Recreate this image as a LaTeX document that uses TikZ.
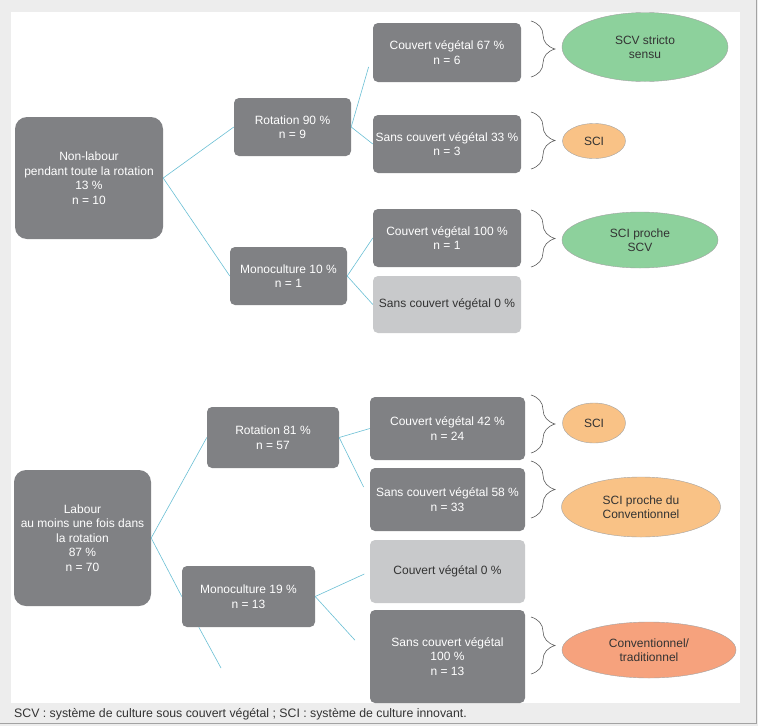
\documentclass[tikz,border=0pt]{standalone}
\usepackage{fontspec}
\setmainfont{Liberation Sans}
\usepackage{xcolor}
\usepackage{tikz}
\usetikzlibrary{decorations.pathreplacing,shapes.geometric}
\definecolor{fondo}{HTML}{EDEDED}
\definecolor{bordo}{HTML}{A3A3A3}
\definecolor{scuro}{HTML}{808184}
\definecolor{chiaro}{HTML}{C8C9CB}
\definecolor{testo}{HTML}{333333}
\definecolor{celeste}{HTML}{6BC0D5}
\definecolor{verde}{HTML}{8DD19C}
\definecolor{arancio}{HTML}{F9C286}
\definecolor{salmone}{HTML}{F6A27D}
\tikzset{
  boxdark/.style={rectangle, rounded corners=5pt, fill=scuro, text=white, align=center,
    inner sep=0pt, font=\fontsize{12}{14.5}\selectfont},
  boxlight/.style={boxdark, fill=chiaro, text=testo},
  esito/.style={ellipse, draw=bordo, line width=0.4pt, text=testo, align=center,
    inner sep=0pt, font=\fontsize{12}{14.5}\selectfont},
  ramo/.style={celeste, line width=0.6pt},
  graffa/.style={draw=testo!80, line width=0.6pt, decorate,
    decoration={brace, amplitude=24pt, aspect=0.5}}
}
\begin{document}
\begin{tikzpicture}[x=1pt, y=-1pt]
  % Background and panel
  \fill[fondo] (0,0) rectangle (758,726);
  \useasboundingbox (0,0) rectangle (758,726);
  \fill[white] (11,12) rectangle (740,703);
  \draw[bordo, line width=1pt] (756,0) -- (756,723) -- (0,723);
  % Upper tree: non-labour
  \node[boxdark, rounded corners=12pt, minimum width=148pt, minimum height=122pt] (nl) at (89,178)
    {Non-labour\\pendant toute la rotation\\13 \%\\n = 10};
  \node[boxdark, minimum width=117pt, minimum height=58pt] (rot1) at (292.5,127) {Rotation 90 \%\\n = 9};
  \node[boxdark, minimum width=117pt, minimum height=58pt] (mono1) at (288.5,276) {Monoculture 10 \%\\n = 1};
  \node[boxdark, minimum width=148pt, minimum height=59pt] (c67) at (447,52.5) {Couvert végétal 67 \%\\n = 6};
  \node[boxdark, minimum width=148pt, minimum height=58pt] (s33) at (447,144) {Sans couvert végétal 33 \%\\n = 3};
  \node[boxdark, minimum width=148pt, minimum height=58pt] (c100) at (447,238) {Couvert végétal 100 \%\\n = 1};
  \node[boxlight, minimum width=148pt, minimum height=57pt] (s0) at (447,304.5) {Sans couvert végétal 0 \%};
  \draw[ramo] (nl.east) -- (rot1.west);
  \draw[ramo] (nl.east) -- (mono1.west);
  \draw[ramo, shorten >=15pt] (rot1.east) -- (c67.west);
  \draw[ramo] (rot1.east) -- (s33.west);
  \draw[ramo] (mono1.east) -- (c100.west);
  \draw[ramo] (mono1.east) -- (s0.west);
  % Upper outcomes
  \draw[graffa] (531,21) -- (531,77);
  \draw[graffa] (531,112) -- (531,169);
  \draw[graffa] (531,210) -- (531,267);
  \node[esito, fill=verde, minimum width=166pt, minimum height=69pt] (e1) at (645,47) {SCV stricto\\sensu};
  \node[esito, fill=arancio, minimum width=63pt, minimum height=35pt] (e2) at (594,141) {SCI};
  \node[esito, fill=verde, minimum width=156pt, minimum height=56pt] (e3) at (640,240) {SCI proche\\SCV};
  % Lower tree: labour
  \node[boxdark, rounded corners=12pt, minimum width=137pt, minimum height=136pt] (lab) at (82.5,538)
    {Labour\\au moins une fois dans\\la rotation\\87 \%\\n = 70};
  \node[boxdark, minimum width=132pt, minimum height=61pt] (rot2) at (273,437.5) {Rotation 81 \%\\n = 57};
  \node[boxdark, minimum width=133pt, minimum height=61pt] (mono2) at (248.5,596.5) {Monoculture 19 \%\\n = 13};
  \node[boxdark, minimum width=155pt, minimum height=63pt] (c42) at (447.5,428.5) {Couvert végétal 42 \%\\n = 24};
  \node[boxdark, minimum width=155pt, minimum height=63pt] (s58) at (447.5,499.5) {Sans couvert végétal 58 \%\\n = 33};
  \node[boxlight, minimum width=155pt, minimum height=63pt] (c0) at (447.5,571.5) {Couvert végétal 0 \%};
  \node[boxdark, minimum width=155pt, minimum height=93pt] (s100) at (447.5,656.5) {Sans couvert végétal\\100 \%\\n = 13};
  \coordinate (coda) at (221,668);
  \draw[ramo] (lab.east) -- (rot2.west);
  \draw[ramo] (lab.east) -- (mono2.west);
  \draw[ramo] (rot2.east) -- (c42.west);
  \draw[ramo, shorten >=14pt] (rot2.east) -- (s58.west);
  \draw[ramo, shorten >=6pt] (mono2.east) -- (c0.west);
  \draw[ramo, shorten >=22pt] (mono2.east) -- (s100.west);
  \draw[ramo] ([xshift=17pt]mono2.south west) -- (coda);
  % Lower outcomes
  \draw[graffa] (531,395) -- (531,453);
  \draw[graffa] (531,461) -- (531,518);
  \draw[graffa] (531,617) -- (531,674);
  \node[esito, fill=arancio, minimum width=63pt, minimum height=40pt] (e4) at (594,423) {SCI};
  \node[esito, fill=arancio, minimum width=159pt, minimum height=60pt] (e5) at (641,507) {SCI proche du\\Conventionnel};
  \node[esito, fill=salmone, minimum width=174pt, minimum height=56pt] (e6) at (649,650) {Conventionnel/\\traditionnel};
  % Caption
  \node[anchor=west, text=testo, inner sep=0pt, font=\fontsize{12.3}{14}\selectfont] (nota) at (14,714)
    {SCV : système de culture sous couvert végétal ; SCI : système de culture innovant.};
\end{tikzpicture}
\end{document}
